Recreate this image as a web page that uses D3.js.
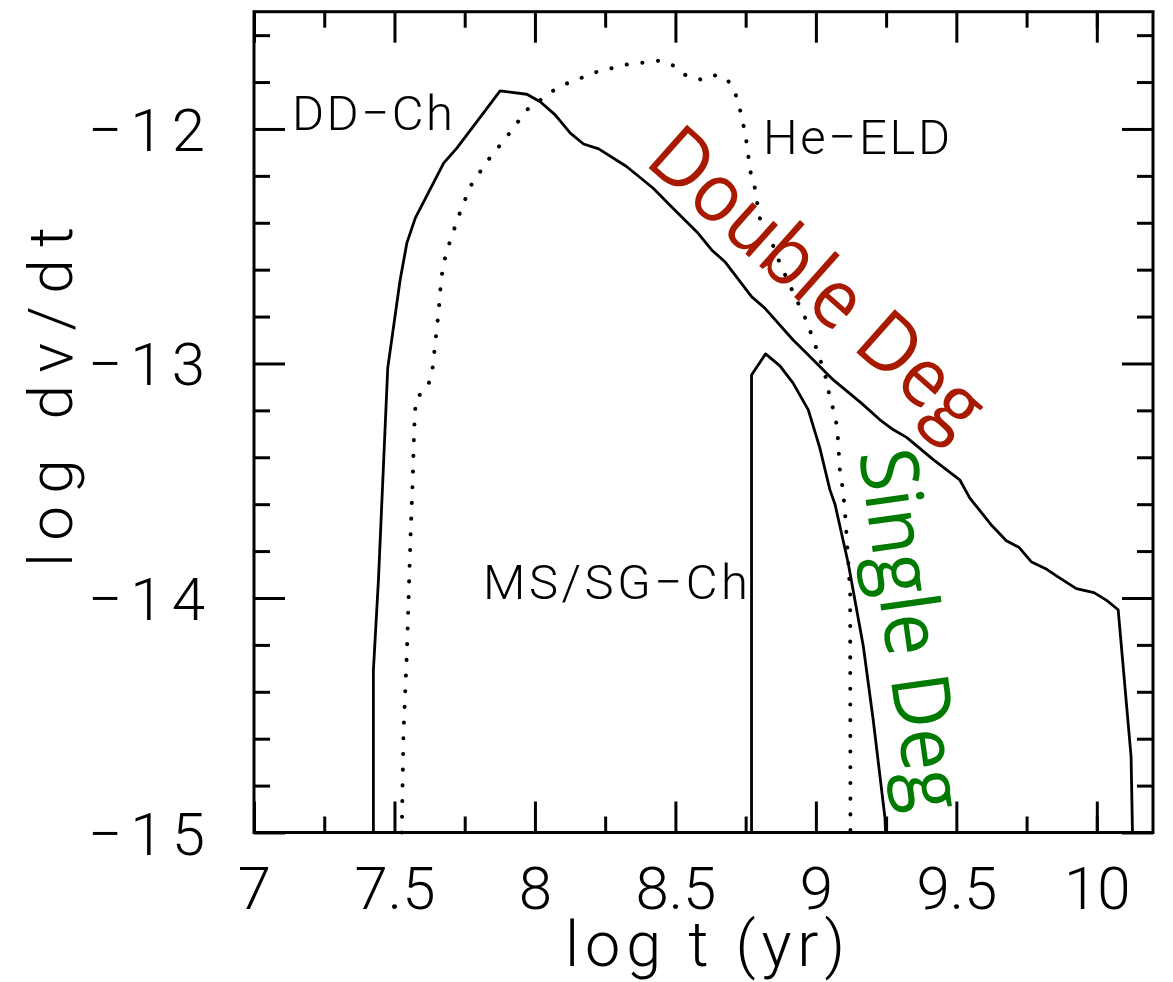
<!DOCTYPE html>
<html>
<head>
<meta charset="utf-8">
<script src="https://cdn.jsdelivr.net/npm/d3@7"></script>
<style>
  html, body { margin: 0; padding: 0; background: #fff; }
  svg { display: block; }
  .hershey { font-family: Roboto, "DejaVu Sans", sans-serif; font-weight: 300; fill: #000; }
  .big { font-family: "Open Sans", "Noto Sans", sans-serif; font-weight: 400; }
</style>
</head>
<body>
<svg id="chart" width="1173" height="982"></svg>
<script>
// Double-degenerate Chandrasekhar channel (solid)
const ddLogT = [7.425, 7.425, 7.443, 7.476, 7.52, 7.544, 7.574, 7.675, 7.722, 7.829, 7.876,
  7.971, 8.019, 8.072, 8.126, 8.173, 8.227, 8.326, 8.421, 8.48, 8.581, 8.629, 8.676, 8.771,
  8.819, 8.919, 8.967, 9.062, 9.163, 9.228, 9.276, 9.323, 9.418, 9.512, 9.548, 9.627, 9.678,
  9.723, 9.768, 9.818, 9.863, 9.927, 9.99, 10.035, 10.076, 10.122, 10.127];
const ddLogRate = [-15, -14.308, -13.922, -13.02, -12.645, -12.487, -12.38, -12.146, -12.082,
  -11.912, -11.838, -11.852, -11.884, -11.94, -12.018, -12.064, -12.085, -12.16, -12.253,
  -12.324, -12.445, -12.516, -12.566, -12.715, -12.765, -12.9, -12.956, -13.07, -13.17,
  -13.24, -13.283, -13.315, -13.41, -13.496, -13.574, -13.692, -13.756, -13.784, -13.847,
  -13.875, -13.911, -13.96, -13.977, -14.01, -14.05, -14.677, -15];

// Main-sequence / subgiant donor channel (solid)
const sdLogT = [8.771, 8.771, 8.821, 8.872, 8.919, 8.973, 9.014, 9.05, 9.068, 9.115, 9.169,
  9.204, 9.246, 9.248];
const sdLogRate = [-15, -13.049, -12.959, -13.01, -13.084, -13.198, -13.36, -13.539, -13.6,
  -13.851, -14.207, -14.519, -14.938, -15];

// Helium-donor edge-lit detonation channel (dotted)
const heLogT = [7.526, 7.532, 7.544, 7.553, 7.558, 7.565, 7.57, 7.576, 7.615, 7.633, 7.645,
  7.657, 7.666, 7.675, 7.692, 7.728, 7.77, 7.829, 7.9, 7.971, 8.019, 8.06, 8.114, 8.221,
  8.328, 8.443, 8.494, 8.54, 8.596, 8.646, 8.685, 8.714, 8.729, 8.742, 8.752, 8.767, 8.783,
  8.8, 8.812, 8.831, 8.851, 8.872, 8.92, 8.965, 9.008, 9.041, 9.05, 9.067, 9.077, 9.085,
  9.095, 9.103, 9.115, 9.122, 9.123];
const heLogRate = [-15, -14.577, -14.237, -13.894, -13.709, -13.496, -13.284, -13.149, -13.106,
  -13.05, -12.915, -12.78, -12.645, -12.572, -12.5, -12.373, -12.245, -12.139, -12.033,
  -11.919, -11.877, -11.84, -11.806, -11.756, -11.725, -11.709, -11.73, -11.774, -11.791,
  -11.77, -11.789, -11.852, -11.912, -11.983, -12.047, -12.182, -12.252, -12.381, -12.387,
  -12.444, -12.508, -12.573, -12.7, -12.813, -12.956, -13.082, -13.155, -13.21, -13.288,
  -13.45, -13.53, -13.621, -13.837, -13.979, -15];

// Axis ticks
const xTicks = [7, 7.5, 8, 8.5, 9, 9.5, 10];
const xMinorTicks = [7.25, 7.75, 8.25, 8.75, 9.25, 9.75, 10.0];
const yTicks = [-15, -14, -13, -12];
const yMinorTicks = [-14.8, -14.6, -14.4, -14.2, -13.8, -13.6, -13.4, -13.2, -12.8, -12.6,
  -12.4, -12.2, -11.8, -11.6];

const frameL = 254, frameR = 1153, frameT = 11.7, frameB = 832.5;

const svg = d3.select("#chart");
const x = d3.scaleLinear().domain([7, 10.2]).range([frameL, frameR]);
const y = d3.scaleLinear().domain([-15, -11.5]).range([frameB, frameT]);

const tickStyle = g => {
  g.select(".domain").remove();
  g.selectAll(".tick line").attr("stroke", "#000").attr("stroke-width", 3);
};

// minor ticks on all four sides
svg.append("g").attr("transform", `translate(0,${frameB})`)
  .call(d3.axisBottom(x).tickValues(xMinorTicks).tickSize(-16).tickFormat(""))
  .call(tickStyle);
svg.append("g").attr("transform", `translate(0,${frameT})`)
  .call(d3.axisTop(x).tickValues(xMinorTicks).tickSize(-16).tickFormat(""))
  .call(tickStyle);
svg.append("g").attr("transform", `translate(${frameL},0)`)
  .call(d3.axisLeft(y).tickValues(yMinorTicks).tickSize(-16).tickFormat(""))
  .call(tickStyle);
svg.append("g").attr("transform", `translate(${frameR},0)`)
  .call(d3.axisRight(y).tickValues(yMinorTicks).tickSize(-16).tickFormat(""))
  .call(tickStyle);

// major ticks with labels
const xb = svg.append("g").attr("transform", `translate(0,${frameB})`)
  .call(d3.axisBottom(x).tickValues(xTicks).tickSize(-31).tickFormat(d3.format("")))
  .call(tickStyle);
xb.attr("font-family", null).attr("font-size", null);
xb.selectAll(".tick text")
  .attr("class", "hershey").attr("font-size", 60)
  .attr("y", 909 - frameB).attr("dy", 0);

svg.append("g").attr("transform", `translate(0,${frameT})`)
  .call(d3.axisTop(x).tickValues(xTicks).tickSize(-31).tickFormat(""))
  .call(tickStyle);

const yl = svg.append("g").attr("transform", `translate(${frameL},0)`)
  .call(d3.axisLeft(y).tickValues(yTicks).tickSize(-31).tickFormat(d3.format("d")))
  .call(tickStyle);
yl.attr("font-family", null).attr("font-size", null);
yl.selectAll(".tick text")
  .attr("class", "hershey").attr("font-size", 60)
  .attr("x", 205 - frameL).attr("dy", 0).attr("y", 21.5)
  .attr("text-anchor", "end")
  .attr("textLength", 117).attr("lengthAdjust", "spacing");

svg.append("g").attr("transform", `translate(${frameR},0)`)
  .call(d3.axisRight(y).tickValues(yTicks).tickSize(-31).tickFormat(""))
  .call(tickStyle);

// frame
svg.append("rect")
  .attr("x", frameL).attr("y", frameT)
  .attr("width", frameR - frameL).attr("height", frameB - frameT)
  .attr("fill", "none").attr("stroke", "#000").attr("stroke-width", 3);

// curves
const line = d3.line().x(d => x(d[0])).y(d => y(d[1]));
const plot = svg.append("g");
plot.append("path")
  .attr("d", line(d3.zip(ddLogT, ddLogRate)))
  .attr("fill", "none").attr("stroke", "#000").attr("stroke-width", 2.8)
  .attr("stroke-linejoin", "round");
plot.append("path")
  .attr("d", line(d3.zip(sdLogT, sdLogRate)))
  .attr("fill", "none").attr("stroke", "#000").attr("stroke-width", 2.8)
  .attr("stroke-linejoin", "round");
plot.append("path")
  .attr("d", line(d3.zip(heLogT, heLogRate)))
  .attr("fill", "none").attr("stroke", "#000").attr("stroke-width", 4)
  .attr("stroke-linecap", "round")
  .attr("stroke-dasharray", "0.1 15.6");

// channel labels
const labels = [
  { text: "DD\u2212Ch", x: 292, y: 130, len: 161 },
  { text: "He\u2212ELD", x: 763, y: 154, len: 187 },
  { text: "MS/SG\u2212Ch", x: 483, y: 599, len: 265 }
];
svg.append("g").selectAll("text").data(labels).join("text")
  .attr("class", "hershey").attr("font-size", 49)
  .attr("x", d => d.x).attr("y", d => d.y)
  .attr("textLength", d => d.len).attr("lengthAdjust", "spacing")
  .text(d => d.text);

// axis titles
svg.append("text").attr("class", "hershey").attr("font-size", 63)
  .attr("x", 705).attr("y", 966).attr("text-anchor", "middle")
  .attr("textLength", 280).attr("lengthAdjust", "spacing")
  .text("log t (yr)");
svg.append("text").attr("class", "hershey").attr("font-size", 62)
  .attr("transform", "translate(72,397) rotate(-90)")
  .attr("text-anchor", "middle")
  .attr("textLength", 340).attr("lengthAdjust", "spacing")
  .text("log d\u03BD/dt");

// regime labels
svg.append("text").attr("class", "big").attr("font-size", 81)
  .attr("fill", "#a81a00")
  .attr("transform", "translate(643,163) rotate(41.6)")
  .attr("textLength", 418).attr("lengthAdjust", "spacingAndGlyphs")
  .text("Double Deg");
svg.append("text").attr("class", "big").attr("font-size", 80)
  .attr("fill", "#007a00")
  .attr("transform", "translate(859,453) rotate(82)")
  .attr("textLength", 364).attr("lengthAdjust", "spacingAndGlyphs")
  .text("Single Deg");
</script>
</body>
</html>
